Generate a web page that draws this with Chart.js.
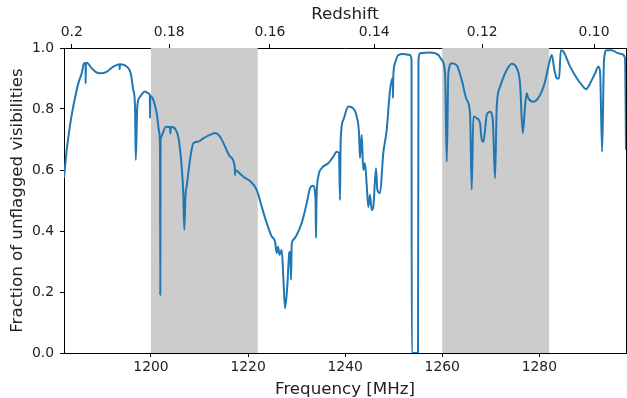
<!DOCTYPE html>
<html>
<head>
<meta charset="utf-8">
<script src="https://cdn.jsdelivr.net/npm/chart.js@4/dist/chart.umd.min.js"></script>
<style>
  html, body { margin: 0; padding: 0; background: #ffffff; }
  #wrap { width: 627px; height: 398px; }
</style>
</head>
<body>
<div id="wrap"><canvas id="c" width="627" height="398"></canvas></div>
<script>
// ---- data ----
const frequency = [
1182.08,1182.64,1183.30,1183.99,1185.03,1185.73,1186.20,1186.51,1186.55,1186.59,1186.75,
1187.79,1188.67,1189.50,1190.88,1192.24,1193.50,1193.55,1193.62,1195.00,1195.82,
1196.36,1196.71,1196.87,1197.18,1197.74,1198.77,1199.45,1199.76,1199.80,1199.84,
1200.48,1201.18,1201.72,1201.86,1201.92,1201.98,1202.08,1203.08,1203.90,1204.00,
1204.11,1204.60,1205.29,1205.62,1205.83,1206.33,1206.65,1206.86,1207.11,1207.35,
1208.04,1208.72,1209.75,1210.78,1212.16,1213.19,1214.22,1215.25,1216.28,1217.25,
1217.31,1217.37,1218.34,1219.37,1220.40,1221.78,1222.81,1223.84,1224.87,1225.55,
1225.90,1226.17,1226.48,1226.93,1227.26,1227.61,1228.08,1228.49,1228.70,1228.85,
1228.99,1229.32,1230.02,1231.05,1232.08,1232.76,1233.44,1233.90,1234.00,1234.10,
1234.47,1235.17,1236.53,1237.56,1238.26,1238.73,1238.94,1239.08,1239.62,1240.65,
1241.68,1242.38,1242.86,1243.06,1243.41,1243.74,1244.09,1244.44,1244.77,1245.12,
1245.47,1245.80,1246.36,1246.63,1247.18,1247.86,1248.56,1249.24,1249.80,1249.86,
1249.92,1250.26,1250.95,1251.98,1253.36,1253.67,1253.73,1255.01,1255.11,1255.42,
1257.48,1259.19,1259.90,1260.58,1260.93,1261.26,1261.96,1262.99,1264.02,1265.05,
1265.73,1266.08,1266.41,1267.11,1267.79,1268.14,1268.47,1268.82,1269.17,1269.85,
1270.41,1270.88,1271.23,1271.91,1273.29,1274.32,1275.35,1276.03,1276.59,1277.06,
1277.41,1277.74,1278.77,1280.16,1281.19,1281.87,1282.57,1283.11,1283.60,1284.08,
1284.43,1284.97,1286.35,1287.73,1288.74,1289.63,1290.46,1291.49,1292.17,1292.52,
1292.94,1293.33,1293.88,1294.91,1295.95,1296.98,1297.66,1297.86
];
const unflaggedFraction = [
0.574,0.666,0.745,0.808,0.884,0.917,0.950,0.951,0.884,0.951,0.952,
0.934,0.921,0.917,0.922,0.939,0.947,0.930,0.947,0.939,0.917,
0.862,0.808,0.633,0.808,0.840,0.857,0.852,0.846,0.770,0.843,
0.830,0.786,0.721,0.666,0.191,0.690,0.709,0.742,0.741,0.720,
0.741,0.740,0.726,0.709,0.688,0.611,0.524,0.404,0.518,0.546,
0.633,0.688,0.693,0.704,0.715,0.721,0.709,0.677,0.644,0.611,
0.584,0.600,0.588,0.574,0.564,0.535,0.480,0.426,0.382,0.366,
0.328,0.348,0.322,0.338,0.251,0.147,0.218,0.328,0.332,0.240,
0.355,0.371,0.387,0.426,0.491,0.540,0.548,0.502,0.377,0.502,
0.578,0.606,0.622,0.644,0.660,0.656,0.502,0.699,0.764,0.808,
0.802,0.775,0.721,0.639,0.715,0.600,0.622,0.551,0.479,0.519,
0.469,0.479,0.606,0.535,0.524,0.655,0.731,0.862,0.902,0.836,
0.905,0.950,0.977,0.980,0.977,0.961,0.000,0.000,0.961,0.983,
0.985,0.977,0.961,0.917,0.627,0.917,0.950,0.943,0.895,0.830,
0.786,0.535,0.775,0.770,0.753,0.699,0.693,0.731,0.781,0.791,
0.764,0.573,0.808,0.873,0.928,0.948,0.934,0.884,0.721,0.808,
0.852,0.835,0.824,0.846,0.890,0.939,0.977,0.928,0.901,0.900,
0.993,0.988,0.939,0.901,0.879,0.865,0.884,0.917,0.939,0.922,
0.660,0.961,0.993,0.993,0.985,0.980,0.966,0.666
];
const shadedBandStart = [1200, 1260];
const shadedBandEnd   = [1222, 1282];
const frequencyTicks  = [1200, 1220, 1240, 1260, 1280];
const redshiftTicks   = [0.2, 0.18, 0.16, 0.14, 0.12, 0.10];
const redshiftLabels  = ['0.2', '0.18', '0.16', '0.14', '0.12', '0.10'];
const fractionTicks   = [0.0, 0.2, 0.4, 0.6, 0.8, 1.0];
const REST_FREQ_MHZ = 1420.405;
const FREQ_MIN = 1182.08, FREQ_MAX = 1297.86;

// ---- chart ----
Chart.defaults.font.family = "'DejaVu Sans', sans-serif";
Chart.defaults.color = '#222222';

const tickFont = { size: 13.9 };
const titleFont = { size: 16.67 };

const bandsPlugin = {
  id: 'bands',
  beforeDatasetsDraw(chart) {
    const { ctx, chartArea, scales } = chart;
    ctx.save();
    ctx.fillStyle = '#cccccc';
    for (let i = 0; i < shadedBandStart.length; i++) {
      const x0 = scales.x.getPixelForValue(shadedBandStart[i]);
      const x1 = scales.x.getPixelForValue(shadedBandEnd[i]);
      ctx.fillRect(x0, chartArea.top, x1 - x0, chartArea.bottom - chartArea.top);
    }
    ctx.restore();
  }
};
const framePlugin = {
  id: 'frame',
  afterDraw(chart) {
    const { ctx, chartArea } = chart;
    ctx.save();
    ctx.strokeStyle = '#000000';
    ctx.lineWidth = 1;
    ctx.beginPath();
    ctx.moveTo(chartArea.right + 0.5, chartArea.top);
    ctx.lineTo(chartArea.right + 0.5, chartArea.bottom);
    ctx.stroke();
    ctx.restore();
  }
};

new Chart(document.getElementById('c'), {
  type: 'line',
  data: {
    datasets: [{
      data: frequency.map((f, i) => ({ x: f, y: unflaggedFraction[i] })),
      borderColor: '#1f77b4',
      borderWidth: 2,
      pointRadius: 0,
      cubicInterpolationMode: 'monotone',
      fill: false
    }]
  },
  options: {
    responsive: false,
    devicePixelRatio: 1,
    animation: false,
    layout: { padding: { left: 0, right: 1, top: 0, bottom: 0 } },
    plugins: { legend: { display: false }, tooltip: { enabled: false } },
    scales: {
      x: {
        type: 'linear', position: 'bottom', min: FREQ_MIN, max: FREQ_MAX,
        afterBuildTicks: s => { s.ticks = frequencyTicks.map(v => ({ value: v })); },
        afterFit: s => { s.height = 45; },
        ticks: { font: tickFont, padding: 2, maxRotation: 0, callback: v => String(v) },
        grid: { drawOnChartArea: false, tickLength: 4, color: '#000000', tickWidth: 1 },
        border: { color: '#000000', width: 1 },
        title: { display: true, text: 'Frequency [MHz]', font: { size: 16.67, lineHeight: 1 }, padding: { top: 0, bottom: 0 } }
      },
      x2: {
        type: 'linear', position: 'top', axis: 'x', min: FREQ_MIN, max: FREQ_MAX,
        afterBuildTicks: s => { s.ticks = redshiftTicks.map(z => ({ value: REST_FREQ_MHZ / (1 + z) })); },
        afterFit: s => { s.height = 48; },
        ticks: { font: tickFont, padding: 3, maxRotation: 0, callback: (v, i) => redshiftLabels[i] },
        grid: { drawOnChartArea: false, tickLength: 4, color: '#000000', tickWidth: 1 },
        border: { color: '#000000', width: 1 },
        title: { display: true, text: 'Redshift', font: titleFont, padding: { top: 5, bottom: 0 } }
      },
      y: {
        type: 'linear', position: 'left', min: 0, max: 1,
        afterBuildTicks: s => { s.ticks = fractionTicks.map(v => ({ value: v })); },
        afterFit: s => { s.width = 64; },
        ticks: { font: tickFont, padding: 6, callback: v => Number(v).toFixed(1) },
        grid: { drawOnChartArea: false, tickLength: 4, color: '#000000', tickWidth: 1 },
        border: { color: '#000000', width: 1 },
        title: { display: true, text: 'Fraction of unflagged visibilities', font: titleFont, padding: { top: 8, bottom: 0 } }
      }
    }
  },
  plugins: [bandsPlugin, framePlugin]
});
</script>
</body>
</html>
